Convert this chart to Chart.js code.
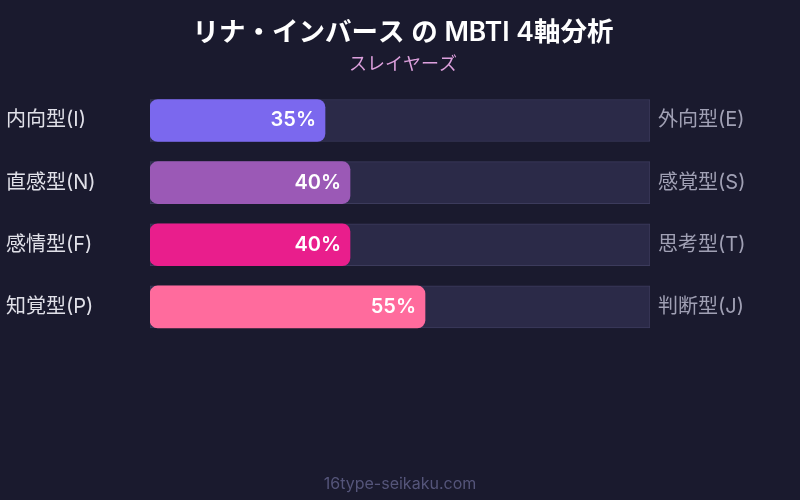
<!DOCTYPE html>
<html><head><meta charset="utf-8">
<script src="https://cdn.jsdelivr.net/npm/chart.js@4"></script>
<style>html,body{margin:0;padding:0;background:#1a1a2e;}#wrap{width:800px;height:500px;}</style>
</head><body><div id="wrap"><canvas id="c" width="800" height="500"></canvas></div>
<script>
const leftLabels = ['内向型(I)', '直感型(N)', '感情型(F)', '知覚型(P)'];
const rightLabels = ['外向型(E)', '感覚型(S)', '思考型(T)', '判断型(J)'];
const values = [35, 40, 40, 55];
const trackValues = [100, 100, 100, 100];
const barColors = ['#7b68ee', '#9b59b6', '#e91e8c', '#ff6b9d'];
const titleText = 'リナ・インバース の MBTI 4軸分析';
const subtitleText = 'スレイヤーズ';
const footerText = '16type-seikaku.com';

const FONT = "Inter, 'Noto Sans CJK JP', sans-serif";

const valueLabelPlugin = {
  id: 'valueLabels',
  afterDatasetsDraw(chart) {
    const ctx = chart.ctx;
    const meta = chart.getDatasetMeta(1);
    ctx.save();
    ctx.font = '600 20px ' + FONT;
    ctx.fillStyle = '#ffffff';
    ctx.textAlign = 'right';
    ctx.textBaseline = 'middle';
    meta.data.forEach((bar, i) => {
      ctx.fillText(values[i] + '%', bar.x - 9, bar.y);
    });
    ctx.restore();
  },
  afterDraw(chart) {
    const ctx = chart.ctx;
    ctx.save();
    ctx.font = '16px ' + FONT;
    ctx.fillStyle = '#55557a';
    ctx.textAlign = 'center';
    ctx.textBaseline = 'middle';
    ctx.fillText(footerText, 400, 484);
    ctx.restore();
  }
};

const bgPlugin = {
  id: 'bg',
  beforeDraw(chart) {
    const ctx = chart.ctx;
    ctx.save();
    ctx.fillStyle = '#1a1a2e';
    ctx.fillRect(0, 0, chart.width, chart.height);
    ctx.restore();
  }
};

new Chart(document.getElementById('c'), {
  type: 'bar',
  data: {
    labels: leftLabels,
    datasets: [
      {
        data: trackValues,
        backgroundColor: '#2b2a48',
        borderColor: '#3c3b5c',
        borderWidth: 1,
        borderSkipped: false,
        barThickness: 42,
        grouped: false,
        order: 2
      },
      {
        data: values,
        backgroundColor: barColors,
        borderWidth: 0,
        borderRadius: 8,
        borderSkipped: false,
        barThickness: 42,
        grouped: false,
        order: 1
      }
    ]
  },
  options: {
    indexAxis: 'y',
    responsive: false,
    animation: false,
    layout: { padding: { left: 6, right: 0, top: 0, bottom: 162 } },
    plugins: {
      legend: { display: false },
      tooltip: { enabled: false },
      title: {
        display: true,
        text: titleText,
        color: '#ffffff',
        font: { family: FONT, size: 26.5, weight: '600', lineHeight: 1.2 },
        padding: { top: 17, bottom: 5 }
      },
      subtitle: {
        display: true,
        text: subtitleText,
        color: '#dda0dd',
        font: { family: FONT, size: 18, weight: 'normal', lineHeight: 1.2 },
        padding: { top: 0, bottom: 14 }
      }
    },
    scales: {
      x: {
        min: 0, max: 100,
        display: false,
        grid: { display: false }
      },
      y: {
        position: 'left',
        grid: { display: false, drawTicks: false },
        border: { display: false },
        ticks: { color: '#e0e0e8', font: { family: FONT, size: 20 }, crossAlign: 'far', padding: 0 },
        afterFit(s) { s.width = 144; }
      },
      y2: {
        type: 'category',
        labels: rightLabels,
        position: 'right',
        offset: true,
        grid: { display: false, drawTicks: false },
        border: { display: false },
        ticks: { color: '#a0a0b4', font: { family: FONT, size: 20 }, padding: 8 },
        afterFit(s) { s.width = 150; }
      }
    }
  },
  plugins: [bgPlugin, valueLabelPlugin]
});
</script></body></html>
